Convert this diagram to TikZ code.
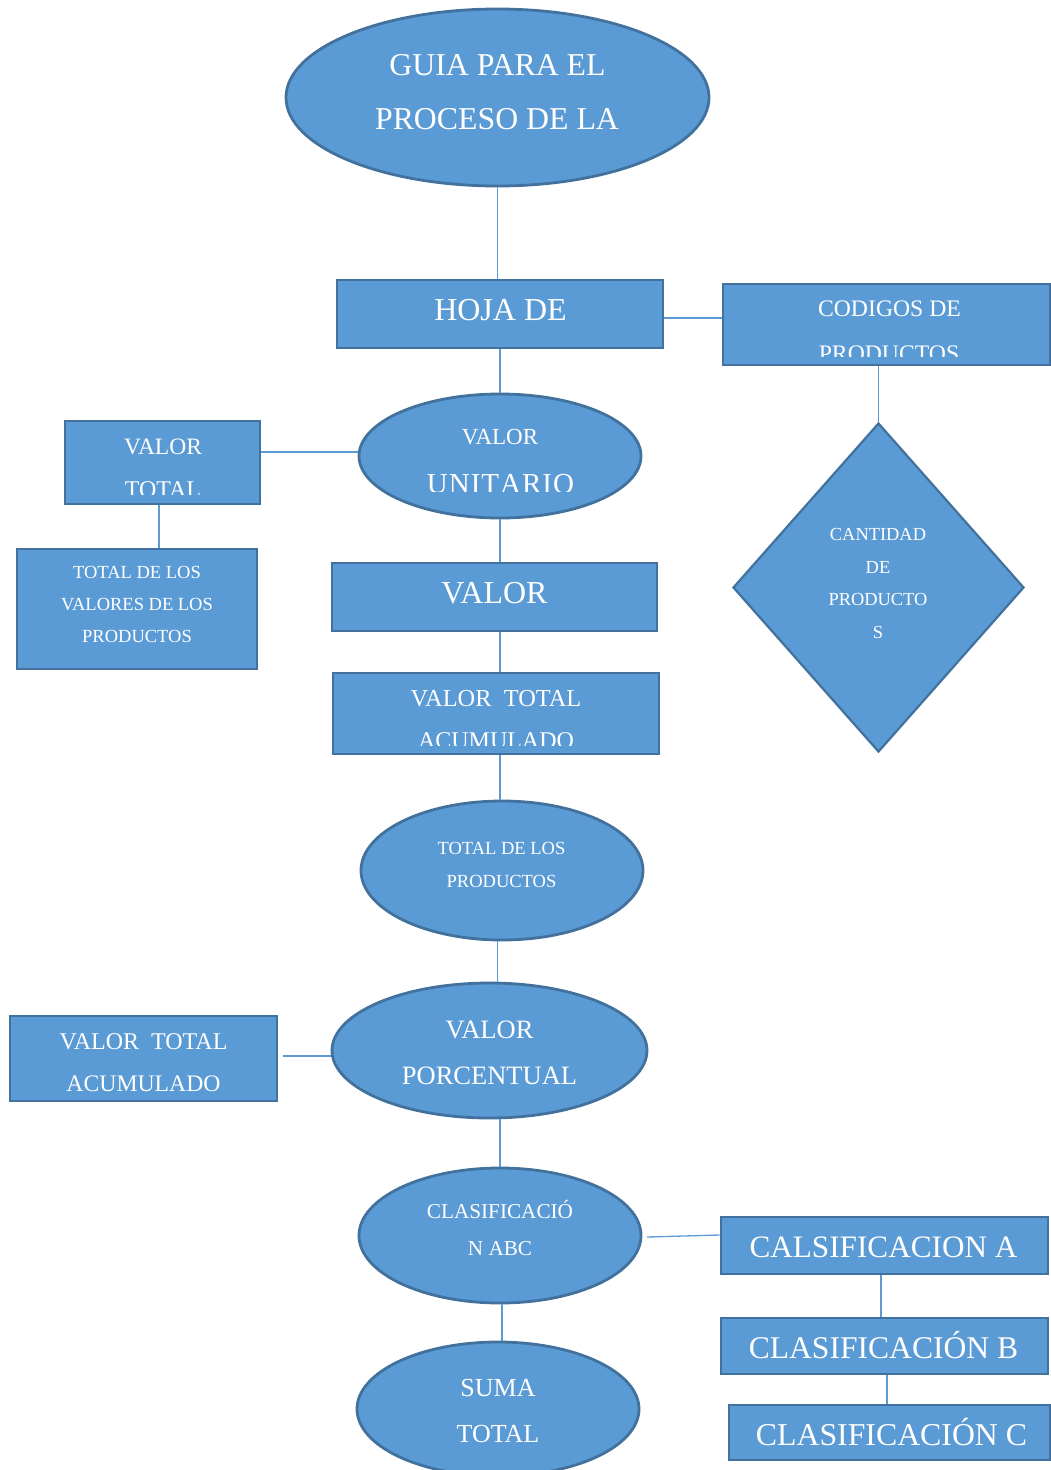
\documentclass[tikz,border=0pt]{standalone}
\usepackage{fontspec}
\setmainfont{Liberation Serif}
\usetikzlibrary{shapes.geometric}
\definecolor{fillb}{HTML}{5B9BD5}
\definecolor{edgeb}{HTML}{41719C}
\definecolor{lineb}{HTML}{5B9BD5}
\newcommand\fsz[1]{\fontsize{#1}{#1}\selectfont}
\begin{document}
\begin{tikzpicture}[x=1pt,y=-1pt,
  shapebox/.style={draw=edgeb, fill=fillb, line width=2.8pt, inner sep=0pt, rectangle},
  oval/.style={draw=edgeb, fill=fillb, line width=2.8pt, inner sep=0pt, ellipse},
  rhomb/.style={draw=edgeb, fill=fillb, line width=2.2pt, inner sep=0pt, diamond},
  conn/.style={draw=lineb, line width=1.3pt},
  lbl/.style={text=white, inner sep=0pt, anchor=base},
]
\useasboundingbox (0,0) rectangle (1051,1470);

% shapes
\node[oval, minimum width=423pt, minimum height=177pt] (guia) at (497.5,97.5) {};
\node[shapebox, minimum width=326pt, minimum height=68pt] (hoja) at (500,314) {};
\node[shapebox, minimum width=327pt, minimum height=81pt] (codigos) at (886.5,324.5) {};
\node[oval, minimum width=282pt, minimum height=124pt] (vu) at (500,456) {};
\node[shapebox, minimum width=195pt, minimum height=83pt] (vt) at (162.5,462.5) {};
\node[shapebox, minimum width=240pt, minimum height=120pt] (tdlv) at (137,609) {};
\node[shapebox, minimum width=325pt, minimum height=68pt] (valor) at (494.5,597) {};
\node[shapebox, minimum width=326pt, minimum height=81pt] (vta) at (496,713.5) {};
\node[rhomb, minimum width=291pt, minimum height=329pt] (cant) at (878.5,587.5) {};
\node[oval, minimum width=282pt, minimum height=139pt] (tdlp) at (502,870.5) {};
\node[oval, minimum width=315pt, minimum height=135pt] (vp) at (489.5,1050.5) {};
\node[shapebox, minimum width=267pt, minimum height=85pt] (vta2) at (143.5,1058.5) {};
\node[oval, minimum width=282pt, minimum height=135pt] (cabc) at (500,1235.5) {};
\node[oval, minimum width=282pt, minimum height=134pt] (suma) at (498,1409) {};
\node[shapebox, minimum width=327pt, minimum height=57pt] (ca) at (884.5,1245.5) {};
\node[shapebox, minimum width=327pt, minimum height=56pt] (cb) at (884.5,1346) {};
\node[shapebox, minimum width=321pt, minimum height=55pt] (cc) at (889.5,1432.5) {};

% connectors
\draw[conn] (guia.south) -- (guia.south |- hoja.north);
\draw[conn] ([yshift=-4pt]hoja.east) -- ([yshift=-4pt]hoja.east -| codigos.west);
\draw[conn] (hoja.south -| vu.north) -- (vu.north);
\draw[conn] (cant.north |- codigos.south) -- (cant.north);
\draw[conn] ([yshift=4pt]vu.west) -- ([yshift=4pt]vu.west -| vt.east);
\draw[conn] ([xshift=-3.5pt]vt.south) -- ([xshift=-3.5pt]vt.south |- tdlv.north);
\draw[conn] (vu.south) -- (vu.south |- valor.north);
\draw[conn] (vu.south |- valor.south) -- (vu.south |- vta.north);
\draw[conn] (vu.south |- vta.south) -- (vu.south |- tdlp.north);
\draw[conn] (tdlp.south -| guia.south) -- (guia.south |- vp.north);
\coordinate (vtaC) at (283,1056);
\draw[conn] (vtaC) -- (vtaC -| vp.west);
\draw[conn] (vp.south -| vu.south) -- (vu.south |- cabc.north);
\coordinate (cabcR) at (647,1237);
\draw[conn] (cabcR) -- ([yshift=10.5pt]ca.west);
\draw[conn] ([xshift=2pt]cabc.south) -- ([xshift=2pt]cabc.south |- suma.north);
\draw[conn] ([xshift=-3.5pt]ca.south) -- ([xshift=-3.5pt]ca.south |- cb.north);
\draw[conn] ([xshift=2.5pt]cb.south) -- ([xshift=2.5pt]cb.south |- cc.north);

% labels
\node[lbl, font=\fsz{31.8}] (guiaA) at (497.5,75) {GUIA PARA EL};
\node[lbl, font=\fsz{31.8}] (guiaB) at (497,129) {PROCESO DE LA};
\node[lbl, font=\fsz{32}] (hojaA) at (500.5,320.5) {HOJA DE};
\node[lbl, font=\fsz{23.7}] (codA) at (889.5,316) {CODIGOS DE};
\begin{scope}
  \clip (700,330) rectangle (1051,356);
  \node[lbl, font=\fsz{23.7}] (codB) at (889,361) {PRODUCTOS};
\end{scope}
\node[lbl, font=\fsz{23}] (vuA) at (500,444.5) {VALOR};
\begin{scope}
  \clip (380,460) rectangle (620,491);
  \node[lbl, font=\fsz{29}] (vuB) at (500.5,493) {U\kern1pt N\kern1pt I\kern1pt T\kern1pt A\kern1pt R\kern1pt I\kern1pt O};
\end{scope}
\node[lbl, font=\fsz{23.5}] (vtA) at (163,454) {VALOR};
\begin{scope}
  \clip (70,470) rectangle (255,494);
  \node[lbl, font=\fsz{24}] (vtB) at (163,497) {TOTAL};
\end{scope}
\node[lbl, font=\fsz{18.5}] (tdlvA) at (137,578) {TOTAL DE LOS};
\node[lbl, font=\fsz{18.5}] (tdlvB) at (137,610) {VALORES DE LOS};
\node[lbl, font=\fsz{18.5}] (tdlvC) at (137,642) {PRODUCTOS};
\node[lbl, font=\fsz{32}] (valorA) at (494.5,603) {VALOR};
\node[lbl, font=\fsz{24.4}] (vtaA) at (496,706) {VALOR\ \ TOTAL};
\begin{scope}
  \clip (340,715) rectangle (650,745);
  \node[lbl, font=\fsz{24}] (vtaB) at (496,748) {ACUMULADO};
\end{scope}
\node[lbl, font=\fsz{18.4}] (cantA) at (878,540) {CANTIDAD};
\node[lbl, font=\fsz{18.4}] (cantB) at (878,573) {DE};
\node[lbl, font=\fsz{18.4}] (cantC) at (878,605) {PRODUCTO};
\node[lbl, font=\fsz{18.4}] (cantD) at (878,638) {S};
\node[lbl, font=\fsz{18.5}] (tdlpA) at (501.5,854) {TOTAL DE LOS};
\node[lbl, font=\fsz{18.5}] (tdlpB) at (501.5,887) {PRODUCTOS};
\node[lbl, font=\fsz{24}] (vta2A) at (143.5,1049) {VALOR\ \ TOTAL};
\node[lbl, font=\fsz{23.7}] (vta2B) at (143.5,1091) {ACUMULADO};
\node[lbl, font=\fsz{26.5}] (vpA) at (489.5,1038) {VALOR};
\node[lbl, font=\fsz{26.5}] (vpB) at (489.5,1084) {PORCENTUAL};
\node[lbl, font=\fsz{21.2}] (cabcA) at (500,1218) {CLASIFICACIÓ};
\node[lbl, font=\fsz{21.2}] (cabcB) at (500,1255) {N ABC};
\node[lbl, font=\fsz{26}] (sumaA) at (498,1396) {SUMA};
\node[lbl, font=\fsz{26}] (sumaB) at (498,1442) {TOTAL};
\node[lbl, font=\fsz{31.2}] (caA) at (883.5,1257) {CALSIFICACION A};
\node[lbl, font=\fsz{31.6}] (cbA) at (883.5,1358.5) {CLASIFICACIÓN B};
\node[lbl, font=\fsz{31.8}] (ccA) at (891.5,1445.5) {CLASIFICACIÓN C};
\end{tikzpicture}
\end{document}
